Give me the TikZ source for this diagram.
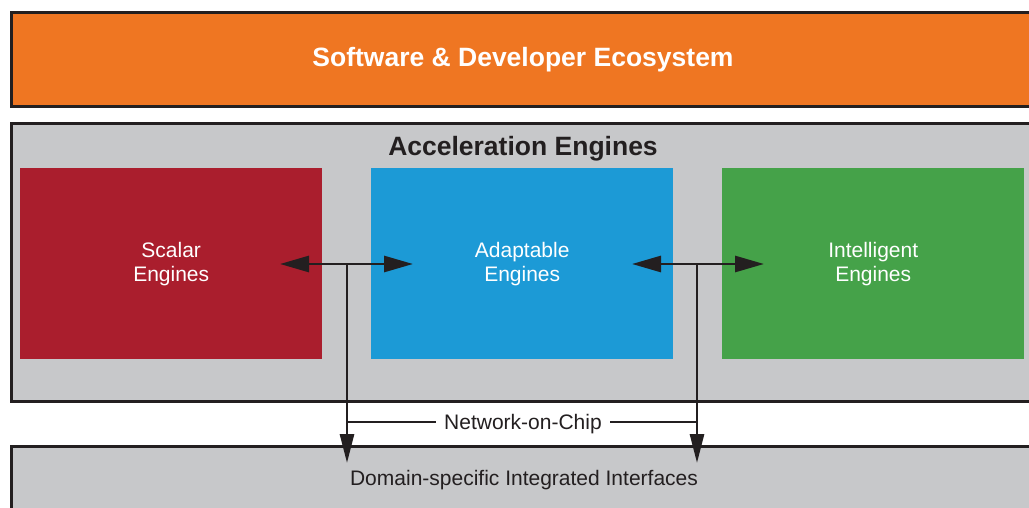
\documentclass[tikz,border=0pt]{standalone}
\usepackage{fontspec}
\setmainfont{Liberation Sans}
\usetikzlibrary{arrows.meta}
\definecolor{ecoorange}{HTML}{EF7622}
\definecolor{panelgray}{HTML}{C7C8CA}
\definecolor{scalarred}{HTML}{AA1E2D}
\definecolor{adaptblue}{HTML}{1C9AD6}
\definecolor{intelgreen}{HTML}{45A249}
\definecolor{inkdark}{HTML}{231F20}
\tikzset{
  layer/.style={draw=inkdark, line width=3pt, anchor=north west, inner sep=0pt},
  engine/.style={anchor=north west, minimum width=302pt, minimum height=191pt, inner sep=0pt},
  engtext/.style={text=white, font=\fontsize{21}{24}\selectfont, align=center},
  link/.style={draw=inkdark, line width=2.8pt},
  bihead/.style={link, {Triangle[length=29pt,width=16pt]}-{Triangle[length=29pt,width=16pt]}},
  downhead/.style={link, -{Triangle[length=29pt,width=14pt]}},
}
\begin{document}
\begin{tikzpicture}[x=1pt,y=-1pt]
\useasboundingbox (0,0) rectangle (1029,508);
\fill[white] (0,0) rectangle (1029,508);
\begin{scope}
\clip (0,0) rectangle (1029,508);
% layers
\node[layer, fill=ecoorange, minimum width=1040pt, minimum height=94pt] (eco) at (10,11) {};
\node[layer, fill=panelgray, minimum width=1040pt, minimum height=278pt] (accel) at (10,122) {};
\node[layer, fill=panelgray, minimum width=1040pt, minimum height=80pt] (dsii) at (10,445) {};
\end{scope}
\node[text=white, font=\bfseries\fontsize{26.5}{30}\selectfont] (ecolbl) at (523,60) {Software \& Developer Ecosystem};
\node[text=inkdark, font=\bfseries\fontsize{26.5}{30}\selectfont] (accellbl) at (523,149) {Acceleration Engines};
% engines
\node[engine, fill=scalarred] (scalar) at (20,168) {};
\node[engine, fill=adaptblue] (adapt) at (371,168) {};
\node[engine, fill=intelgreen] (intel) at (722,168) {};
\node[engtext] (scalarlbl) at (scalar.center) {Scalar\\Engines};
\node[engtext] (adaptlbl) at (adapt.center) {Adaptable\\Engines};
\node[engtext] (intellbl) at (intel.center) {Intelligent\\Engines};
% connection points
\coordinate (sA) at (280,264);
\coordinate (aA) at (413,264);
\coordinate (aB) at (632,264);
\coordinate (iB) at (764,264);
\coordinate (jA) at (347,264);
\coordinate (jB) at (697,264);
\coordinate (dA) at (347,463);
\coordinate (dB) at (697,463);
\coordinate (nA) at (347,422);
\coordinate (nB) at (697,422);
% network-on-chip
\draw[link] (nA) -- (nB);
\node[fill=white, text=inkdark, font=\fontsize{21}{24}\selectfont, inner xsep=8pt, inner ysep=2pt] (noc) at (523,424) {Network-on-Chip};
\draw[downhead] (jA) -- (dA);
\draw[downhead] (jB) -- (dB);
\draw[bihead] (sA) -- (aA);
\draw[bihead] (aB) -- (iB);
\node[text=inkdark, font=\fontsize{21}{24}\selectfont] (dsiilbl) at (524,480) {Domain-specific Integrated Interfaces};
\end{tikzpicture}
\end{document}
